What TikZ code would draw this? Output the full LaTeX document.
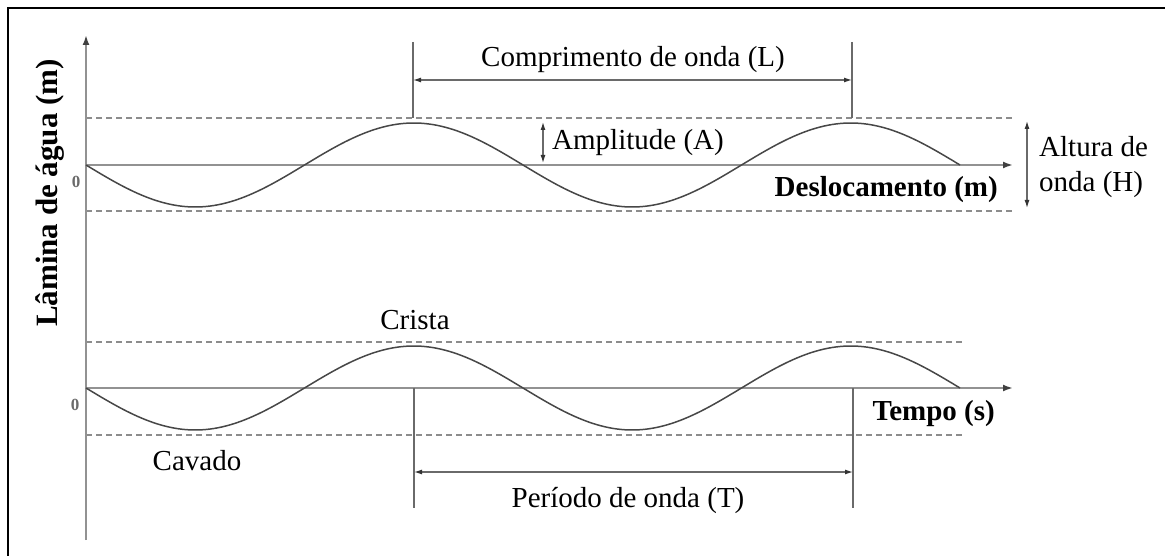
\documentclass[tikz,border=0pt]{standalone}
\usepackage{fontspec}
\setmainfont{Liberation Serif}
\usetikzlibrary{arrows.meta}
\definecolor{axisgray}{HTML}{929292}
\definecolor{wavegray}{HTML}{474747}
\definecolor{dashgray}{HTML}{8C8C8C}
\definecolor{dimgray}{HTML}{6A6A6A}
\definecolor{zerogray}{HTML}{6A6A6A}
\begin{document}
\begin{tikzpicture}[x=1pt,y=-1pt,
  axis/.style={draw=axisgray,line width=2.6pt,-{Latex[length=10pt,width=7pt,color=black!75]}},
  wave/.style={draw=wavegray,line width=1.5pt},
  guide/.style={draw=dashgray,line width=1.4pt,dash pattern=on 6pt off 4pt},
  dim/.style={draw=dimgray,line width=1.2pt},
  dimarrow/.style={dim,{Latex[length=8pt,width=5pt,color=black!80]}-{Latex[length=8pt,width=5pt,color=black!80]}},
  lbl/.style={font=\fontsize{29}{34}\selectfont,inner sep=0pt},
  blbl/.style={font=\fontsize{29}{34}\selectfont\bfseries,inner sep=0pt},
  zero/.style={font=\fontsize{17}{19}\selectfont\bfseries,text=zerogray,inner sep=0pt}]
\useasboundingbox (0,0) rectangle (1165,556);
% frame (only left and top visible)
\draw[line width=2pt] (8,556) -- (8,8) -- (1165,8);
% named coordinates
\coordinate (O) at (86,540);
\coordinate (Otop) at (86,35);
\coordinate (A1) at (86,165);
\coordinate (A1e) at (1013,165);
\coordinate (A2) at (86,388);
\coordinate (A2e) at (1013,388);
% dashed guides
\draw[guide] (86,118) -- (1015,118);
\draw[guide] (86,211) -- (1015,211);
\draw[guide] (86,342) -- (963,342);
\draw[guide] (86,435) -- (963,435);
% axes
\draw[axis] (O) -- (Otop);
\draw[axis] (A1) -- (A1e);
\draw[axis] (A2) -- (A2e);
% waves
\draw[wave] plot[domain=86:960,samples=220,smooth] (\x,{165+42*sin((\x-86)/437*360)});
\draw[wave] plot[domain=86:960,samples=220,smooth] (\x,{388+42*sin((\x-86)/437*360)});
% wavelength
\coordinate (L1t) at (413,42);
\coordinate (L1b) at (413,118);
\coordinate (L2t) at (852,42);
\coordinate (L2b) at (852,118);
\coordinate (L1m) at (413,80);
\coordinate (L2m) at (852,80);
\draw[dim] (L1t) -- (L1b);
\draw[dim] (L2t) -- (L2b);
\draw[dimarrow] (L1m) -- (L2m);
\node[lbl,anchor=base] (comp) at (633,67) {Comprimento de onda (L)};
% amplitude
\coordinate (Am1) at (543,122);
\coordinate (Am2) at (543,163);
\draw[dimarrow] (Am1) -- (Am2);
\node[lbl,anchor=base west] (ampl) at (552,150) {Amplitude (A)};
% wave height
\coordinate (H1) at (1027,121);
\coordinate (H2) at (1027,208);
\draw[dimarrow] (H1) -- (H2);
\node[lbl,anchor=base west] (alt1) at (1039,157) {Altura de};
\node[lbl,anchor=base west] (alt2) at (1039,192) {onda (H)};
% axis labels
\node[blbl,anchor=base east] (desl) at (998,197) {Deslocamento (m)};
\node[blbl,anchor=base east] (tempo) at (995,420) {Tempo (s)};
\node[font=\fontsize{31}{36}\selectfont\bfseries,inner sep=0pt,rotate=90,anchor=base] (ylab) at (57,193) {Lâmina de água (m)};
\node[zero] (z1) at (76,182) {0};
\node[zero] (z2) at (75,405) {0};
% crest / trough
\node[lbl,anchor=base] (crista) at (415,329) {Crista};
\node[lbl,anchor=base] (cavado) at (197,470) {Cavado};
% period
\coordinate (P1t) at (414,388);
\coordinate (P1b) at (414,508);
\coordinate (P2t) at (853,388);
\coordinate (P2b) at (853,508);
\coordinate (P1m) at (414,472);
\coordinate (P2m) at (853,472);
\draw[dim] (P1t) -- (P1b);
\draw[dim] (P2t) -- (P2b);
\draw[dimarrow] (P1m) -- (P2m);
\node[lbl,anchor=base] (periodo) at (628,507) {Período de onda (T)};
\end{tikzpicture}
\end{document}
